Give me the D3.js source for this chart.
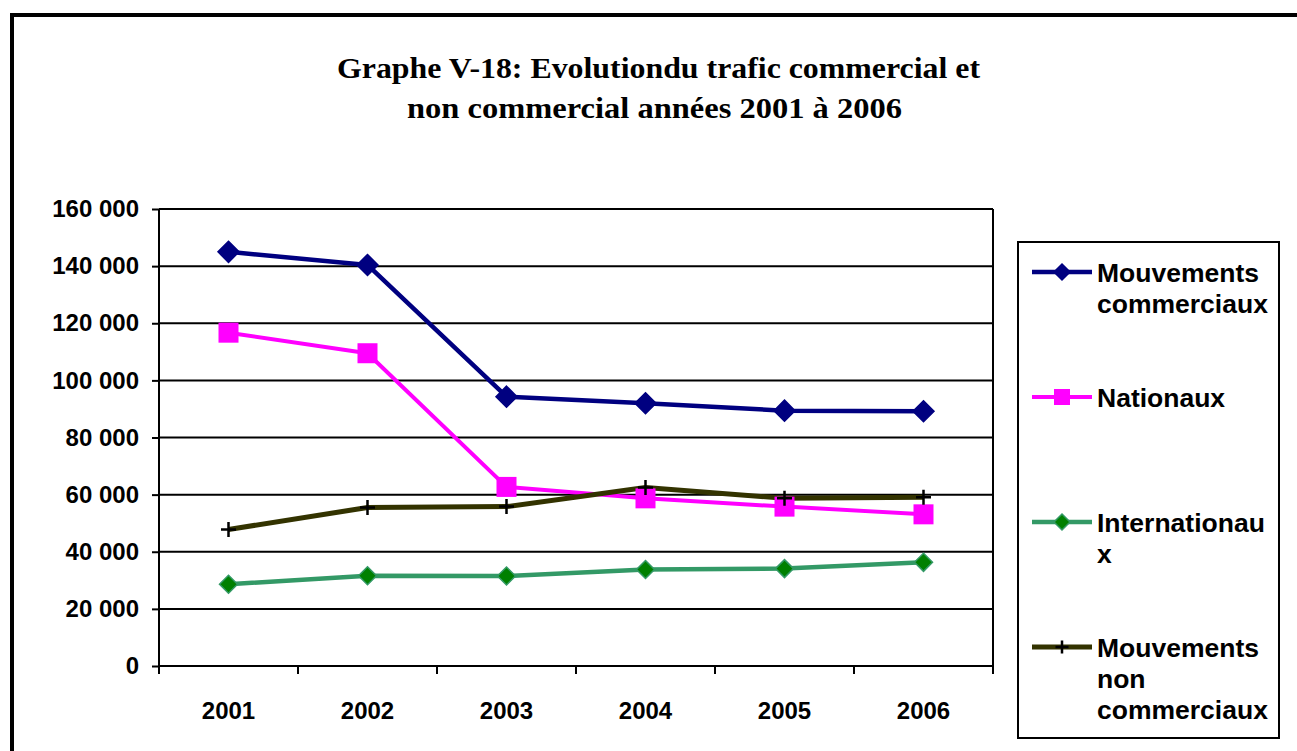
<!DOCTYPE html>
<html>
<head>
<meta charset="utf-8">
<script src="https://cdn.jsdelivr.net/npm/d3@7"></script>
<style>
  html, body { margin: 0; padding: 0; background: #fff; }
  svg { display: block; }
  .axis text { font-family: "Liberation Sans", Arial, sans-serif; font-weight: bold; font-size: 24px; fill: #000; }
  .axis path, .axis line { stroke: #000; stroke-width: 2px; }
</style>
</head>
<body>
<svg id="chart" width="1297" height="751"></svg>
<script>
// Years on the category axis
const years = ["2001", "2002", "2003", "2004", "2005", "2006"];

// Traffic movements per year
const mouvementsCommerciaux = [145000, 140400, 94300, 92000, 89400, 89200];
const nationaux = [116700, 109500, 62700, 58700, 55800, 53100];
const internationaux = [28600, 31600, 31500, 33800, 34100, 36300];
const mouvementsNonCommerciaux = [47800, 55500, 55800, 62500, 58700, 59100];

// Value axis ticks
const yTicks = [0, 20000, 40000, 60000, 80000, 100000, 120000, 140000, 160000];

const titleLines = [
  "Graphe V-18: Evolutiondu trafic commercial et",
  "non commercial années 2001 à 2006"
];

const series = [
  { name: ["Mouvements", "commerciaux"], values: mouvementsCommerciaux, line: "#000080", marker: "diamond", fill: "#000080", mstroke: "#000080", width: 4.5 },
  { name: ["Nationaux"], values: nationaux, line: "#ff00ff", marker: "square", fill: "#ff00ff", mstroke: "#ff00ff", width: 4 },
  { name: ["Internationau", "x"], values: internationaux, line: "#339966", marker: "diamond", fill: "#008000", mstroke: "#339966", width: 4.5 },
  { name: ["Mouvements", "non", "commerciaux"], values: mouvementsNonCommerciaux, line: "#333300", marker: "plus", fill: "none", mstroke: "#000000", width: 5 }
];

const svg = d3.select("#chart");

// Outer chart frame (extends past the right and bottom edges)
svg.append("rect")
  .attr("x", 12).attr("y", 15)
  .attr("width", 1400).attr("height", 900)
  .attr("fill", "none").attr("stroke", "#000").attr("stroke-width", 4);

// Title, slightly condensed serif
const title = svg.append("text")
  .style("font-family", "'Liberation Serif', 'Times New Roman', serif")
  .style("font-weight", "bold")
  .style("font-size", "30px");
title.append("tspan").attr("x", 337).attr("y", 78)
  .attr("textLength", 643).attr("lengthAdjust", "spacingAndGlyphs")
  .text(titleLines[0]);
title.append("tspan").attr("x", 407).attr("y", 118)
  .attr("textLength", 495).attr("lengthAdjust", "spacingAndGlyphs")
  .text(titleLines[1]);

// Plot area
const plot = { left: 159, right: 993, top: 209, bottom: 666 };

const x = d3.scaleBand().domain(years).range([plot.left, plot.right]).padding(0);
const y = d3.scaleLinear().domain([0, 160000]).range([plot.bottom, plot.top]);

const fr = d3.formatLocale({ decimal: ",", thousands: " ", grouping: [3], currency: ["", ""] });
const fmt = fr.format(",");

// Horizontal gridlines
svg.append("g").selectAll("line")
  .data(yTicks)
  .join("line")
  .attr("x1", plot.left).attr("x2", plot.right)
  .attr("y1", d => y(d)).attr("y2", d => y(d))
  .attr("stroke", "#000").attr("stroke-width", 2);

// Right border of plot area
svg.append("line")
  .attr("x1", plot.right).attr("x2", plot.right)
  .attr("y1", plot.top).attr("y2", plot.bottom)
  .attr("stroke", "#000").attr("stroke-width", 2);

// Value axis
svg.append("g")
  .attr("class", "axis")
  .attr("transform", `translate(${plot.left},0)`)
  .call(d3.axisLeft(y).tickValues(yTicks).tickFormat(fmt).tickSizeInner(7).tickSizeOuter(0).tickPadding(13))
  .call(g => g.select(".domain").attr("d", `M0,${plot.top}V${plot.bottom + 8}`));

// Category axis: labels centred in each band, ticks on band boundaries
const xAxis = svg.append("g")
  .attr("class", "axis")
  .attr("transform", `translate(0,${plot.bottom})`)
  .call(d3.axisBottom(x).tickSize(0).tickPadding(36));
xAxis.select(".domain").attr("d", `M${plot.left},0H${plot.right}`);
xAxis.selectAll(".boundary")
  .data(years.map(d => x(d)).concat([x(years[years.length - 1]) + x.bandwidth()]))
  .join("line")
  .attr("class", "boundary")
  .attr("x1", d => d).attr("x2", d => d)
  .attr("y1", 0).attr("y2", 8);

const cx = d => x(d) + x.bandwidth() / 2;

// Marker shapes
function drawMarker(g, type, size, fill, stroke) {
  if (type === "diamond") {
    const h = size / 2;
    g.append("path")
      .attr("d", `M0,${-h}L${h},0L0,${h}L${-h},0Z`)
      .attr("fill", fill).attr("stroke", stroke).attr("stroke-width", 1.5);
  } else if (type === "square") {
    const h = size / 2;
    g.append("rect")
      .attr("x", -h).attr("y", -h).attr("width", size).attr("height", size)
      .attr("fill", fill);
  } else if (type === "plus") {
    const h = size / 2;
    g.append("path")
      .attr("d", `M${-h},0H${h}M0,${-h}V${h}`)
      .attr("stroke", stroke).attr("stroke-width", 2.5).attr("fill", "none");
  }
}

const markerSize = { diamond: 21, square: 20, plus: 15 };

// Lines and markers
const lineGen = d3.line().x((d, i) => cx(years[i])).y(d => y(d));

series.forEach(s => {
  svg.append("path")
    .datum(s.values)
    .attr("d", lineGen)
    .attr("fill", "none")
    .attr("stroke", s.line)
    .attr("stroke-width", s.width)
    .attr("stroke-linejoin", "round");
});

series.forEach(s => {
  const size = s === series[2] ? 18 : markerSize[s.marker];
  svg.append("g").selectAll("g")
    .data(s.values)
    .join("g")
    .attr("transform", (d, i) => `translate(${cx(years[i])},${y(d)})`)
    .each(function () { drawMarker(d3.select(this), s.marker, size, s.fill, s.mstroke); });
});

// Legend
const legend = svg.append("g");
legend.append("rect")
  .attr("x", 1018).attr("y", 242).attr("width", 261).attr("height", 496)
  .attr("fill", "#fff").attr("stroke", "#000").attr("stroke-width", 2);

const legendY = [272, 397, 522, 647];
series.forEach((s, i) => {
  const g = legend.append("g").attr("transform", `translate(0,${legendY[i]})`);
  g.append("line")
    .attr("x1", 1032).attr("x2", 1092).attr("y1", 0).attr("y2", 0)
    .attr("stroke", s.line).attr("stroke-width", s.width);
  const m = g.append("g").attr("transform", "translate(1062,0)");
  const lsize = { diamond: 16, square: 16, plus: 13 }[s.marker];
  drawMarker(m, s.marker, lsize, s.fill, s.mstroke);
  const t = g.append("text")
    .style("font-family", "'Liberation Sans', Arial, sans-serif")
    .style("font-weight", "bold")
    .style("font-size", "26.5px")
    .attr("fill", "#000");
  s.name.forEach((line, j) => {
    t.append("tspan").attr("x", 1097).attr("y", 10 + j * 31).text(line);
  });
});
</script>
</body>
</html>
